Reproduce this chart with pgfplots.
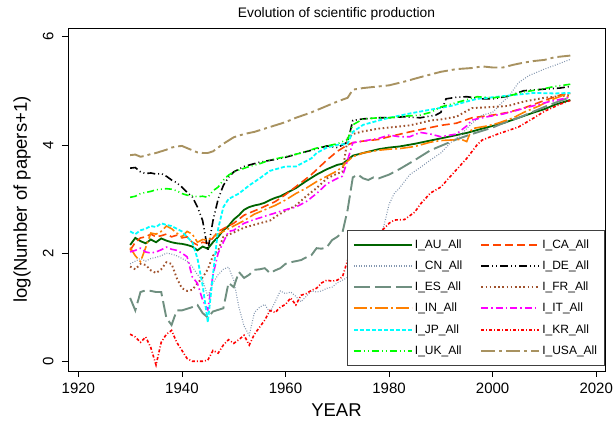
\documentclass[border=0pt]{standalone}
\usepackage{pgfplots}
\pgfplotsset{compat=1.18}
\usepackage{fontspec}
\setmainfont{Liberation Sans}
\definecolor{cAU}{HTML}{006400}
\definecolor{cCA}{HTML}{FF4500}
\definecolor{cCN}{HTML}{8497B0}
\definecolor{cDE}{HTML}{000000}
\definecolor{cES}{HTML}{6F8F80}
\definecolor{cFR}{HTML}{A0522D}
\definecolor{cIN}{HTML}{FF8000}
\definecolor{cIT}{HTML}{FF00FF}
\definecolor{cJP}{HTML}{00FFFF}
\definecolor{cKR}{HTML}{FF0000}
\definecolor{cUK}{HTML}{00FF00}
\definecolor{cUSA}{HTML}{A89260}
\pgfplotsset{myleg/.style n args={2}{legend image code/.code={%
  \begingroup\color{white}\endgroup
  \draw[color=#1, draw=#1, line width=2pt, #2] (0pt,0pt) -- (58pt,0pt);}}}
\begin{document}
\begin{tikzpicture}
\path[use as bounding box] (-68pt,-51pt) rectangle (548pt,371pt);
\begin{axis}[
  at={(0,0)}, anchor=south west,
  scale only axis, width=537pt, height=343pt,
  xmin=1918, xmax=2021.7, ymin=-0.18, ymax=6.16,
  xtick={1920,1940,...,2020}, ytick={0,2,4,6},
  tick pos=left, tick align=outside, major tick length=6pt,
  tick style={black, line width=0.6pt},
  axis line style={line width=0.8pt},
  x tick label style={font=\fontsize{15}{17}\selectfont, yshift=-2pt},
  y tick label style={font=\fontsize{15}{17}\selectfont, xshift=-5pt, rotate=90, anchor=south},
  /pgf/number format/assume math mode=true,
  /pgf/number format/1000 sep={},
  xlabel={YEAR}, ylabel={log(Number of papers+1)},
  label style={font=\fontsize{18.5}{20}\selectfont},
  xlabel style={at={(axis description cs:0.5,-0.1137)}, anchor=center},
  ylabel style={at={(axis description cs:-0.0857,0.5)}, anchor=center},
  title={Evolution of scientific production},
  title style={font=\fontsize{13.8}{15}\selectfont, at={(axis description cs:0.5,1)}, anchor=base, yshift=4.5pt},
  legend columns=2,
  legend cell align=left,
  legend style={name=legbox, at={(axis description cs:0.521,0.0175)}, anchor=south west,
    draw=none, fill=white, font=\fontsize{12}{14}\selectfont,
    row sep=7pt, inner xsep=5pt, inner ysep=7pt,
    /tikz/every even column/.append style={column sep=16pt}},
  every axis plot/.append style={line width=1.6pt},
]
% AU
\addplot[forget plot, color=cAU, line width=1.8pt] coordinates {
(1930,2.15)(1931,2.28)(1932,2.22)(1933,2.18)(1934,2.25)(1935,2.2)(1936,2.27)(1937,2.23)(1938,2.2)(1939,2.18)
(1940,2.17)(1941,2.15)(1942,2.12)(1943,2.05)(1944,2.12)(1945,2.08)(1946,2.2)(1947,2.3)(1948,2.42)(1949,2.5)
(1950,2.62)(1951,2.7)(1952,2.8)(1953,2.85)(1954,2.88)(1955,2.9)(1956,2.93)(1957,2.98)(1958,3.02)(1959,3.05)
(1960,3.1)(1962,3.2)(1964,3.33)(1966,3.45)(1968,3.55)(1970,3.63)(1971,3.65)(1972,3.72)(1973,3.8)(1975,3.85)
(1978,3.92)(1980,3.95)(1982,3.97)(1985,4.02)(1988,4.08)(1990,4.12)(1993,4.18)(1995,4.22)(1998,4.3)(2000,4.35)
(2002,4.4)(2005,4.5)(2008,4.6)(2010,4.66)(2012,4.74)(2015,4.83)};
% CA
\addplot[forget plot, color=cCA, dash pattern=on 8pt off 4pt] coordinates {
(1930,2.05)(1931,2.2)(1932,2.28)(1933,2.3)(1934,2.35)(1935,2.3)(1936,2.32)(1937,2.35)(1938,2.3)(1939,2.33)
(1940,2.28)(1941,2.3)(1942,2.2)(1943,2.15)(1944,2.2)(1945,2.18)(1946,2.28)(1947,2.4)(1948,2.45)(1950,2.55)
(1952,2.7)(1955,2.82)(1958,2.95)(1960,3.08)(1963,3.3)(1965,3.45)(1968,3.72)(1970,3.88)(1972,4.0)(1973,4.04)
(1975,4.07)(1978,4.1)(1980,4.15)(1984,4.24)(1988,4.32)(1990,4.36)(1993,4.4)(1996,4.5)(2000,4.55)(2003,4.6)
(2006,4.68)(2010,4.82)(2013,4.92)(2015,4.95)};
% CN
\addplot[forget plot, color=cCN, line width=1.1pt, dash pattern=on 0.9pt off 1.6pt] coordinates {
(1930,1.8)(1931,1.85)(1932,1.9)(1933,1.85)(1934,1.9)(1935,1.92)(1936,1.95)(1937,2.0)(1938,1.98)(1939,1.95)
(1940,1.9)(1941,1.85)(1942,1.75)(1943,1.6)(1944,1.5)(1945,1.2)(1946,1.45)(1947,1.6)(1948,1.7)(1949,1.74)
(1950,1.5)(1951,1.0)(1952,0.65)(1953,0.48)(1954,0.9)(1955,1.0)(1956,1.05)(1957,0.9)(1958,1.1)(1959,1.3)
(1960,1.25)(1961,1.28)(1962,1.2)(1963,1.1)(1964,1.2)(1965,1.3)(1966,1.28)(1967,1.3)(1968,1.35)(1969,1.37)
(1970,1.45)(1971,1.5)(1972,1.55)(1974,1.6)(1976,1.75)(1977,1.95)(1978,2.3)(1979,2.5)(1980,2.9)(1981,3.1)
(1982,3.2)(1984,3.45)(1986,3.58)(1988,3.72)(1990,3.85)(1992,4.05)(1994,4.2)(1996,4.4)(1998,4.55)(2000,4.6)
(2002,4.8)(2003,4.88)(2005,5.15)(2007,5.28)(2010,5.4)(2012,5.47)(2015,5.58)};
% DE
\addplot[forget plot, color=cDE, dash pattern=on 8pt off 3pt on 1pt off 3pt on 1pt off 3pt] coordinates {
(1930,3.57)(1931,3.58)(1932,3.5)(1933,3.47)(1934,3.48)(1935,3.46)(1936,3.47)(1937,3.42)(1938,3.35)(1939,3.3)
(1940,3.22)(1941,3.12)(1942,3.04)(1943,2.85)(1944,2.6)(1945,2.05)(1946,2.6)(1947,3.0)(1948,3.25)(1949,3.4)
(1950,3.5)(1952,3.6)(1955,3.68)(1958,3.73)(1960,3.77)(1963,3.85)(1965,3.9)(1968,3.98)(1970,3.95)(1972,4.05)
(1973,4.45)(1975,4.48)(1978,4.5)(1980,4.5)(1983,4.52)(1986,4.5)(1989,4.55)(1990,4.6)(1991,4.85)(1993,4.88)
(1995,4.89)(1998,4.85)(2000,4.85)(2003,4.9)(2006,5.0)(2010,5.03)(2013,5.05)(2015,5.08)};
% ES
\addplot[forget plot, color=cES, line width=1.9pt, dash pattern=on 16pt off 5pt] coordinates {
(1930,1.17)(1931,0.94)(1932,1.28)(1933,1.31)(1934,1.3)(1935,1.28)(1936,1.28)(1937,0.8)(1938,0.67)(1939,0.94)
(1940,0.94)(1941,0.97)(1942,1.0)(1943,1.04)(1944,0.89)(1945,0.81)(1946,0.92)(1947,0.95)(1948,0.98)(1949,1.45)
(1950,1.37)(1951,1.65)(1952,1.54)(1953,1.6)(1954,1.69)(1955,1.7)(1956,1.72)(1957,1.63)(1958,1.68)(1959,1.72)
(1960,1.8)(1961,1.83)(1962,1.85)(1963,1.87)(1964,1.92)(1965,1.96)(1966,2.09)(1967,2.08)(1968,2.11)(1969,2.24)
(1970,2.3)(1971,2.38)(1972,2.8)(1973,3.4)(1974,3.45)(1975,3.38)(1976,3.35)(1977,3.4)(1978,3.38)(1980,3.45)
(1982,3.55)(1985,3.72)(1988,3.9)(1990,3.98)(1993,4.1)(1996,4.2)(2000,4.32)(2002,4.4)(2005,4.5)(2008,4.62)
(2011,4.74)(2015,4.88)};
% FR
\addplot[forget plot, color=cFR, line width=1.9pt, dash pattern=on 1.6pt off 2.6pt] coordinates {
(1930,1.75)(1931,1.7)(1932,1.8)(1933,1.78)(1934,1.68)(1935,1.63)(1936,1.7)(1937,1.83)(1938,1.8)(1939,1.54)
(1940,1.35)(1941,1.3)(1942,1.32)(1943,1.44)(1944,1.55)(1945,1.7)(1946,1.95)(1947,2.05)(1948,2.3)(1950,2.38)
(1952,2.47)(1955,2.55)(1957,2.6)(1958,2.67)(1960,2.78)(1962,2.88)(1964,3.05)(1966,3.2)(1968,3.38)(1970,3.47)
(1971,3.5)(1972,4.12)(1973,4.2)(1975,4.25)(1978,4.3)(1980,4.32)(1984,4.36)(1988,4.45)(1990,4.47)(1993,4.52)
(1996,4.68)(2000,4.7)(2003,4.72)(2006,4.8)(2010,4.87)(2013,4.9)(2015,4.92)};
% IN
\addplot[forget plot, color=cIN, dash pattern=on 13pt off 3pt on 2pt off 3pt] coordinates {
(1930,2.1)(1931,1.95)(1932,1.84)(1933,2.1)(1934,2.37)(1935,2.35)(1936,2.4)(1937,2.5)(1938,2.45)(1939,2.37)
(1940,2.3)(1941,2.4)(1942,2.35)(1943,2.2)(1944,2.25)(1945,2.24)(1946,2.3)(1947,2.35)(1948,2.4)(1950,2.5)
(1952,2.6)(1954,2.72)(1956,2.8)(1958,2.88)(1960,2.98)(1962,3.1)(1964,3.2)(1966,3.32)(1968,3.42)(1970,3.52)
(1971,3.6)(1972,3.7)(1973,3.78)(1975,3.85)(1978,3.9)(1980,3.92)(1982,3.93)(1985,3.97)(1988,4.05)(1990,4.08)
(1994,4.1)(1995,4.06)(1996,4.3)(1999,4.35)(2001,4.4)(2004,4.5)(2006,4.6)(2009,4.72)(2011,4.82)(2014,4.93)(2015,4.85)};
% IT
\addplot[forget plot, color=cIT, dash pattern=on 7pt off 3pt on 1.5pt off 3pt] coordinates {
(1930,2.02)(1931,2.05)(1932,2.09)(1933,2.02)(1934,2.0)(1935,2.02)(1936,2.06)(1937,2.11)(1938,2.07)(1939,2.05)
(1940,2.0)(1941,1.93)(1942,1.56)(1943,1.44)(1944,1.13)(1945,0.95)(1946,1.6)(1947,2.0)(1948,2.2)(1949,2.4)
(1950,2.42)(1952,2.55)(1954,2.62)(1956,2.68)(1958,2.74)(1960,2.8)(1962,2.85)(1964,2.95)(1966,3.1)(1968,3.28)
(1970,3.38)(1971,3.42)(1972,3.72)(1973,4.04)(1975,4.07)(1978,4.12)(1980,4.18)(1982,4.15)(1984,4.15)(1986,4.23)
(1988,4.2)(1990,4.15)(1993,4.2)(1995,4.35)(1996,4.46)(1999,4.52)(2002,4.57)(2004,4.62)(2007,4.7)(2011,4.8)(2015,4.88)};
% JP
\addplot[forget plot, color=cJP, line width=1.8pt, dash pattern=on 4pt off 2pt] coordinates {
(1930,2.4)(1931,2.35)(1932,2.42)(1933,2.45)(1934,2.5)(1935,2.48)(1936,2.55)(1937,2.52)(1938,2.5)(1939,2.45)
(1940,2.4)(1941,2.3)(1942,2.2)(1943,1.9)(1944,1.4)(1945,0.72)(1946,1.6)(1947,2.45)(1948,2.85)(1949,3.0)
(1950,3.05)(1951,3.1)(1953,3.25)(1955,3.38)(1957,3.52)(1960,3.6)(1962,3.6)(1965,3.75)(1966,3.85)(1968,3.95)
(1970,4.0)(1972,4.02)(1973,4.24)(1975,4.37)(1978,4.45)(1980,4.5)(1984,4.58)(1988,4.65)(1992,4.72)(1995,4.8)
(1997,4.85)(2000,4.88)(2004,4.92)(2008,4.96)(2012,4.95)(2015,4.96)};
% KR
\addplot[forget plot, color=cKR, dash pattern=on 3pt off 2pt on 1pt off 2pt] coordinates {
(1930,0.5)(1931,0.45)(1932,0.35)(1933,0.45)(1934,0.25)(1935,-0.07)(1936,0.35)(1937,0.5)(1938,0.57)(1939,0.35)
(1940,0.2)(1941,0.05)(1942,0.0)(1943,0.0)(1944,0.0)(1945,0.02)(1946,0.2)(1947,0.15)(1948,0.3)(1949,0.4)
(1950,0.33)(1951,0.4)(1952,0.48)(1953,0.3)(1954,0.5)(1955,0.63)(1956,0.76)(1957,0.94)(1958,0.9)(1959,1.0)
(1960,1.05)(1961,1.17)(1962,1.04)(1963,1.22)(1964,1.25)(1965,1.31)(1966,1.35)(1967,1.45)(1968,1.5)(1969,1.48)
(1970,1.5)(1971,1.56)(1972,1.87)(1973,2.05)(1975,2.15)(1977,2.3)(1979,2.45)(1980,2.55)(1981,2.61)(1983,2.62)
(1985,2.76)(1986,2.9)(1988,3.11)(1990,3.22)(1993,3.54)(1995,3.75)(1997,4.0)(1998,4.09)(2001,4.2)(2005,4.33)
(2008,4.5)(2010,4.62)(2013,4.75)(2015,4.82)};
% UK
\addplot[forget plot, color=cUK, dash pattern=on 7pt off 3pt on 1pt off 3pt on 1pt off 3pt] coordinates {
(1930,3.03)(1931,3.05)(1932,3.1)(1933,3.12)(1934,3.14)(1935,3.17)(1936,3.18)(1937,3.19)(1938,3.18)(1939,3.15)
(1940,3.1)(1941,3.07)(1942,3.06)(1943,3.04)(1944,3.05)(1945,3.03)(1946,3.15)(1947,3.22)(1948,3.35)(1949,3.44)
(1950,3.5)(1953,3.6)(1955,3.65)(1957,3.72)(1960,3.78)(1963,3.85)(1966,3.94)(1968,3.98)(1970,4.02)(1972,4.1)
(1973,4.37)(1975,4.48)(1978,4.5)(1980,4.5)(1983,4.53)(1986,4.55)(1988,4.6)(1990,4.7)(1993,4.78)(1997,4.89)
(2000,4.87)(2003,4.9)(2006,4.98)(2009,5.02)(2012,5.08)(2015,5.12)};
% USA
\addplot[forget plot, color=cUSA, line width=1.9pt, dash pattern=on 14pt off 4pt on 3pt off 4pt] coordinates {
(1930,3.81)(1931,3.82)(1932,3.78)(1933,3.8)(1934,3.83)(1935,3.85)(1936,3.88)(1937,3.91)(1938,3.95)(1939,3.97)
(1940,3.98)(1941,3.94)(1942,3.9)(1943,3.86)(1944,3.85)(1945,3.85)(1946,3.88)(1947,3.95)(1948,4.02)(1950,4.14)
(1952,4.2)(1954,4.24)(1956,4.3)(1958,4.36)(1960,4.42)(1962,4.5)(1965,4.6)(1968,4.72)(1970,4.8)(1972,4.87)
(1973,5.02)(1975,5.05)(1978,5.08)(1980,5.1)(1983,5.17)(1986,5.25)(1988,5.3)(1990,5.35)(1993,5.4)(1996,5.42)
(1998,5.45)(2000,5.43)(2002,5.43)(2004,5.48)(2006,5.52)(2008,5.55)(2010,5.57)(2012,5.62)(2015,5.65)};
% legend
\addlegendimage{myleg={cAU}{line width=2pt}}
\addlegendentry{I\_AU\_All}
\addlegendimage{myleg={cCA}{dash pattern=on 8pt off 4pt}}
\addlegendentry{I\_CA\_All}
\addlegendimage{myleg={cCN}{line width=1.3pt, dash pattern=on 0.9pt off 1.6pt}}
\addlegendentry{I\_CN\_All}
\addlegendimage{myleg={cDE}{dash pattern=on 8pt off 3pt on 1pt off 3pt on 1pt off 3pt}}
\addlegendentry{I\_DE\_All}
\addlegendimage{myleg={cES}{dash pattern=on 16pt off 5pt}}
\addlegendentry{I\_ES\_All}
\addlegendimage{myleg={cFR}{dash pattern=on 1.6pt off 2.6pt}}
\addlegendentry{I\_FR\_All}
\addlegendimage{myleg={cIN}{dash pattern=on 13pt off 3pt on 2pt off 3pt}}
\addlegendentry{I\_IN\_All}
\addlegendimage{myleg={cIT}{dash pattern=on 7pt off 3pt on 1.5pt off 3pt}}
\addlegendentry{I\_IT\_All}
\addlegendimage{myleg={cJP}{dash pattern=on 4pt off 2pt}}
\addlegendentry{I\_JP\_All}
\addlegendimage{myleg={cKR}{dash pattern=on 3pt off 2pt on 1pt off 2pt}}
\addlegendentry{I\_KR\_All}
\addlegendimage{myleg={cUK}{dash pattern=on 7pt off 3pt on 1pt off 3pt on 1pt off 3pt}}
\addlegendentry{I\_UK\_All}
\addlegendimage{myleg={cUSA}{dash pattern=on 14pt off 4pt on 3pt off 4pt}}
\addlegendentry{I\_USA\_All}
\end{axis}
\draw[black!75, line width=0.8pt] (legbox.south west) rectangle (legbox.north east);
\end{tikzpicture}
\end{document}
